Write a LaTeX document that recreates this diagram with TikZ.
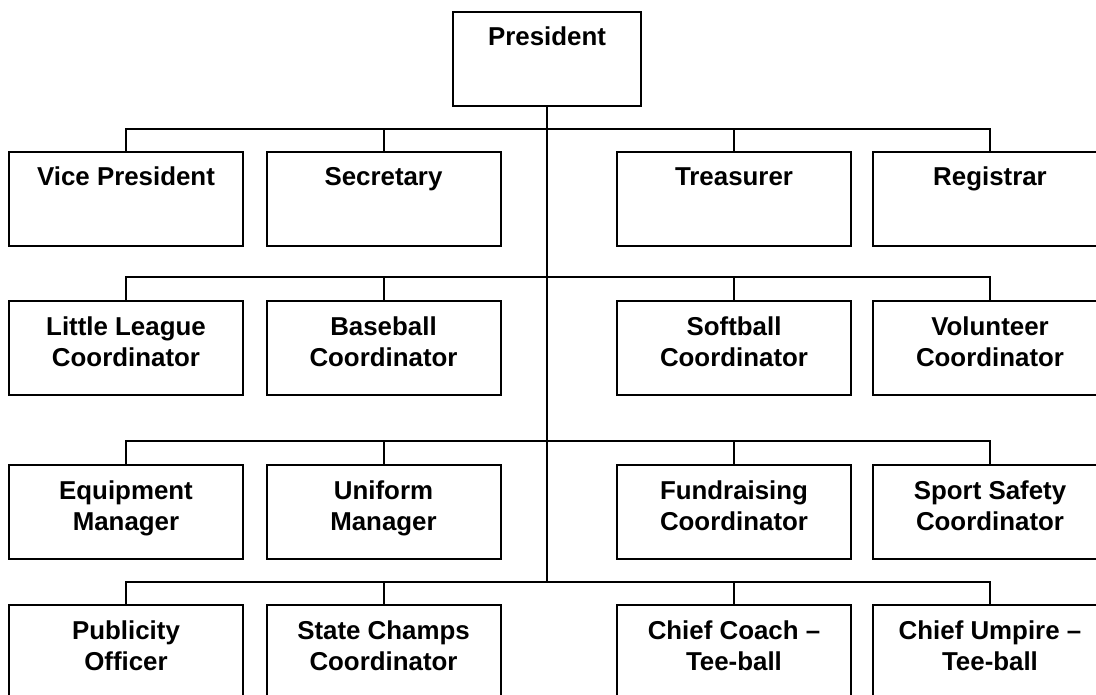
\documentclass[tikz,border=0pt]{standalone}
\usepackage{fontspec}
\setmainfont{Liberation Sans}

\begin{document}
\begin{tikzpicture}[x=0.75pt, y=-0.75pt,
    line width=1.5pt,
    box/.style = {
      draw,
      rectangle,
      minimum width = 175.5pt,
      minimum height = 70.5pt
    },
    lbl/.style = {
      anchor = base,
      yshift = -26.25pt,
      align = center,
      inner sep = 0pt,
      font = \fontsize{19.4}{23.25}\selectfont\bfseries
    },
    lbltwo/.style = {
      lbl,
      yshift = -23.25pt
    }
  ]
  \clip (0,0) rectangle (1096,695);

  \node[box, minimum width=141pt, label={[lbl]north:President}] (pres) at (547,59) {};

  \node[box, label={[lbl]north:Vice President}] (vp)  at (126,199) {};
  \node[box, label={[lbl]north:Secretary}]      (sec) at (383.5,199) {};
  \node[box, label={[lbl]north:Treasurer}]      (tre) at (734,199) {};
  \node[box, label={[lbl]north:Registrar}]      (reg) at (990,199) {};

  \node[box, label={[lbltwo]north:Little League\\Coordinator}] (llc) at (126,348) {};
  \node[box, label={[lbltwo]north:Baseball\\Coordinator}]      (bac) at (383.5,348) {};
  \node[box, label={[lbltwo]north:Softball\\Coordinator}]      (soc) at (734,348) {};
  \node[box, label={[lbltwo]north:Volunteer\\Coordinator}]     (voc) at (990,348) {};

  \node[box, label={[lbltwo]north:Equipment\\Manager}]       (eqm) at (126,512) {};
  \node[box, label={[lbltwo]north:Uniform\\Manager}]         (unm) at (383.5,512) {};
  \node[box, label={[lbltwo]north:Fundraising\\Coordinator}] (fuc) at (734,512) {};
  \node[box, label={[lbltwo]north:Sport Safety\\Coordinator}] (ssc) at (990,512) {};

  \node[box, label={[lbltwo]north:Publicity\\Officer}]        (pub) at (126,652) {};
  \node[box, label={[lbltwo]north:State Champs\\Coordinator}] (stc) at (383.5,652) {};
  \node[box, label={[lbltwo]north:Chief Coach --\\Tee-ball}]  (cct) at (734,652) {};
  \node[box, label={[lbltwo]north:Chief Umpire --\\Tee-ball}] (cut) at (990,652) {};

  \coordinate (bar1) at (547,129);
  \coordinate (bar2) at (547,277);
  \coordinate (bar3) at (547,441);
  \coordinate (bar4) at (547,582);

  % trunk
  \draw (pres.south) -- (bar4);

  % branches
  \draw (vp.north) |- (bar1) -| (reg.north);
  \draw (sec.north) -- (sec.north |- bar1);
  \draw (tre.north) -- (tre.north |- bar1);

  \draw (llc.north) |- (bar2) -| (voc.north);
  \draw (bac.north) -- (bac.north |- bar2);
  \draw (soc.north) -- (soc.north |- bar2);

  \draw (eqm.north) |- (bar3) -| (ssc.north);
  \draw (unm.north) -- (unm.north |- bar3);
  \draw (fuc.north) -- (fuc.north |- bar3);

  \draw (pub.north) |- (bar4) -| (cut.north);
  \draw (stc.north) -- (stc.north |- bar4);
  \draw (cct.north) -- (cct.north |- bar4);
\end{tikzpicture}
\end{document}
